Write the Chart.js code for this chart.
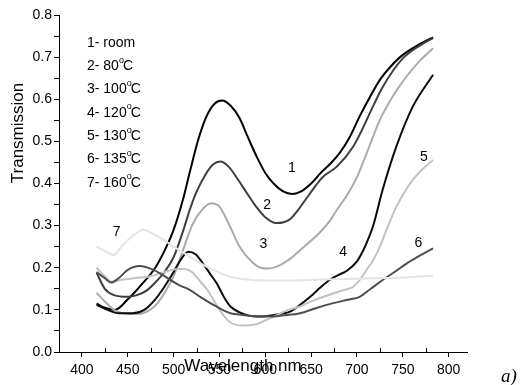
<!DOCTYPE html>
<html>
<head>
<meta charset="utf-8">
<script src="https://cdn.jsdelivr.net/npm/chart.js@4/dist/chart.umd.min.js"></script>
<style>
    html, body {margin: 0; padding: 0; background: #fff;}
    canvas {display: block;}
</style>
</head>
<body>
<canvas id="transmissionChart" width="521" height="385"></canvas>
<script>
// wavelength (nm) and transmission
const roomNm = [416, 425, 436, 450, 465, 480, 490, 500, 510, 518, 527, 536, 545, 553, 562, 572, 581, 591, 600, 609, 619, 629, 638, 650, 660, 670, 681, 692, 703, 714, 725, 736, 747, 760, 772, 783]
const roomT = [0.115, 0.105, 0.10, 0.125, 0.16, 0.2, 0.24, 0.29, 0.36, 0.43, 0.505, 0.56, 0.59, 0.597, 0.585, 0.555, 0.51, 0.462, 0.425, 0.40, 0.382, 0.375, 0.38, 0.40, 0.424, 0.445, 0.472, 0.51, 0.56, 0.605, 0.646, 0.676, 0.70, 0.72, 0.735, 0.747]

const t80Nm = [416, 425, 435, 450, 460, 470, 480, 490, 500, 510, 518, 525, 535, 543, 551, 560, 570, 580, 590, 600, 612, 620, 627, 635, 645, 655, 663, 678, 696, 705, 714, 727, 740, 750, 761, 772, 783]
const t80T = [0.188, 0.15, 0.135, 0.131, 0.135, 0.145, 0.165, 0.19, 0.225, 0.285, 0.34, 0.38, 0.422, 0.445, 0.452, 0.44, 0.41, 0.377, 0.345, 0.32, 0.306, 0.308, 0.315, 0.335, 0.365, 0.395, 0.416, 0.44, 0.488, 0.525, 0.567, 0.625, 0.67, 0.697, 0.717, 0.732, 0.745]

const t100Nm = [416, 425, 435, 445, 460, 470, 480, 490, 500, 510, 520, 530, 541, 550, 560, 572, 585, 595, 603, 615, 625, 634, 645, 660, 670, 678, 690, 700, 712, 725, 740, 754, 768, 783]
const t100T = [0.14, 0.12, 0.10, 0.092, 0.09, 0.095, 0.11, 0.14, 0.18, 0.24, 0.30, 0.335, 0.353, 0.345, 0.305, 0.25, 0.215, 0.20, 0.198, 0.205, 0.218, 0.234, 0.255, 0.285, 0.31, 0.337, 0.375, 0.415, 0.48, 0.551, 0.61, 0.654, 0.69, 0.721]

const t120Nm = [416, 428, 440, 455, 468, 480, 490, 500, 508, 516, 524, 532, 540, 547, 555, 562, 572, 581, 590, 600, 610, 620, 627, 638, 649, 660, 670, 680, 689, 700, 707, 713, 718, 728, 743, 761, 783]
const t120T = [0.112, 0.10, 0.092, 0.092, 0.10, 0.125, 0.155, 0.19, 0.22, 0.238, 0.232, 0.21, 0.185, 0.163, 0.13, 0.108, 0.094, 0.087, 0.084, 0.085, 0.088, 0.092, 0.096, 0.112, 0.131, 0.153, 0.171, 0.183, 0.193, 0.215, 0.242, 0.272, 0.302, 0.385, 0.488, 0.583, 0.658]

const t130Nm = [416, 425, 432, 445, 460, 475, 490, 505, 512, 520, 530, 537, 545, 555, 562, 575, 590, 601, 615, 625, 638, 650, 662, 674, 685, 696, 703, 712, 718, 725, 734, 743, 752, 761, 772, 783]
const t130T = [0.2, 0.18, 0.167, 0.172, 0.176, 0.18, 0.19, 0.197, 0.197, 0.19, 0.165, 0.147, 0.118, 0.085, 0.07, 0.063, 0.066, 0.076, 0.09, 0.1, 0.108, 0.12, 0.13, 0.139, 0.147, 0.155, 0.171, 0.2, 0.219, 0.25, 0.30, 0.345, 0.38, 0.409, 0.435, 0.456]

const t135Nm = [416, 425, 432, 440, 450, 463, 478, 490, 505, 518, 529, 545, 562, 575, 590, 602, 620, 638, 655, 674, 690, 703, 715, 728, 741, 754, 768, 783]
const t135T = [0.19, 0.175, 0.165, 0.175, 0.195, 0.204, 0.195, 0.18, 0.16, 0.147, 0.131, 0.11, 0.092, 0.088, 0.085, 0.084, 0.087, 0.092, 0.104, 0.116, 0.124, 0.131, 0.15, 0.171, 0.19, 0.21, 0.228, 0.246]

const t160Nm = [416, 425, 434, 445, 458, 467, 478, 490, 500, 515, 530, 545, 561, 580, 600, 630, 660, 690, 720, 750, 783]
const t160T = [0.25, 0.24, 0.23, 0.255, 0.28, 0.29, 0.28, 0.265, 0.25, 0.23, 0.21, 0.193, 0.179, 0.172, 0.17, 0.17, 0.172, 0.173, 0.175, 0.177, 0.181]

const legendTemps = ['room', '80', '100', '120', '130', '135', '160']
const yTickValues = [0, 0.05, 0.1, 0.15, 0.2, 0.25, 0.3, 0.35, 0.4, 0.45, 0.5, 0.55, 0.6, 0.65, 0.7, 0.75, 0.8]
const xTickValues = [375, 400, 425, 450, 475, 500, 525, 550, 575, 600, 625, 650, 675, 700, 725, 750, 775, 800]
// curve number tags, in data units [nm, T]
const curveTags = [[629, 0.437], [602, 0.349], [598, 0.256], [685, 0.237], [773, 0.463], [767, 0.259], [438, 0.285]]

const seriesNm = [roomNm, t80Nm, t100Nm, t120Nm, t130Nm, t135Nm, t160Nm]
const seriesT = [roomT, t80T, t100T, t120T, t130T, t135T, t160T]
const seriesColors = ['#000000', '#3e3e3e', '#aaaaaa', '#0c0c0c', '#c2c2c2', '#4e4e4e', '#e4e4e4']

const textFont = '"Liberation Sans", Arial, sans-serif'

function toPoints(nm, values) {
    return nm.map((w, i) => ({x: w, y: values[i]}))
}

const figureText = {
    id: 'figureText',
    afterDraw(chart) {
        const ctx = chart.ctx
        const xs = chart.scales.x
        const ys = chart.scales.y
        ctx.save()
        ctx.fillStyle = '#000'

        // minor ticks on the x axis point up into the plot
        ctx.strokeStyle = '#000'
        ctx.lineWidth = 1
        xTickValues.forEach(v => {
            if (v % 50 === 0) return
            const x = Math.round(xs.getPixelForValue(v)) + 0.5
            ctx.beginPath()
            ctx.moveTo(x, ys.bottom)
            ctx.lineTo(x, ys.bottom - 4)
            ctx.stroke()
        })

        // legend block
        ctx.textBaseline = 'middle'
        ctx.textAlign = 'left'
        legendTemps.forEach((temp, i) => {
            const y = 43 + i * 23.3
            let x = 87
            ctx.font = `14px ${textFont}`
            const head = `${i + 1}- ${temp}`
            ctx.fillText(head, x, y)
            if (temp === 'room') return
            x += ctx.measureText(head).width
            ctx.font = `9px ${textFont}`
            ctx.fillText('o', x, y - 6)
            x += ctx.measureText('o').width - 1
            ctx.font = `14px ${textFont}`
            ctx.fillText('C', x, y)
        })

        // curve numbers
        ctx.textAlign = 'center'
        ctx.font = `14px ${textFont}`
        curveTags.forEach((tag, i) => {
            ctx.fillText(String(i + 1), xs.getPixelForValue(tag[0]), ys.getPixelForValue(tag[1]))
        })

        // axis titles
        ctx.font = `17px ${textFont}`
        ctx.fillText('Wavelength nm', 243, 366)
        ctx.save()
        ctx.translate(18, 133)
        ctx.rotate(-Math.PI / 2)
        ctx.fillText('Transmission', 0, 0)
        ctx.restore()

        ctx.font = `italic 19px "Liberation Serif", "Times New Roman", serif`
        ctx.fillText('a)', 509, 377)
        ctx.restore()
    },
}

new Chart(document.getElementById('transmissionChart').getContext('2d'), {
    type: 'line',
    plugins: [figureText],
    data: {
        datasets: seriesNm.map((nm, i) => ({
            label: i === 0 ? 'room' : `${legendTemps[i]} C`,
            data: toPoints(nm, seriesT[i]),
            borderColor: seriesColors[i],
            borderWidth: 2,
            pointRadius: 0,
            fill: false,
            cubicInterpolationMode: 'monotone',
            order: 6 - i,
        })),
    },
    options: {
        responsive: false,
        animation: false,
        layout: {padding: {top: 15, right: 54, left: 0, bottom: 0}},
        plugins: {
            legend: {display: false},
            tooltip: {enabled: false},
        },
        scales: {
            x: {
                type: 'linear',
                min: 375,
                max: 820,
                afterBuildTicks: scale => {
                    scale.ticks = xTickValues.map(v => ({value: v}))
                },
                afterFit: scale => {
                    scale.height = 33
                },
                ticks: {
                    autoSkip: false,
                    maxRotation: 0,
                    padding: 5,
                    color: '#000',
                    font: {family: textFont, size: 14},
                    callback: v => (v % 50 === 0 && v >= 400 ? String(v) : ''),
                },
                grid: {
                    drawOnChartArea: false,
                    tickLength: 5,
                    tickColor: c => (c.tick && c.tick.value % 50 === 0 ? '#000' : 'rgba(0,0,0,0)'),
                },
                border: {color: '#000', width: 1},
            },
            y: {
                min: 0,
                max: 0.8,
                afterBuildTicks: scale => {
                    scale.ticks = yTickValues.map(v => ({value: v}))
                },
                afterFit: scale => {
                    scale.width = 59
                },
                ticks: {
                    autoSkip: false,
                    padding: 2,
                    color: '#000',
                    font: {family: textFont, size: 14},
                    callback: (v, i) => (i % 2 === 0 ? v.toFixed(1) : ''),
                },
                grid: {
                    drawOnChartArea: false,
                    tickLength: 5,
                    tickColor: '#000',
                },
                border: {color: '#000', width: 1},
            },
        },
    },
})
</script>
</body>
</html>
